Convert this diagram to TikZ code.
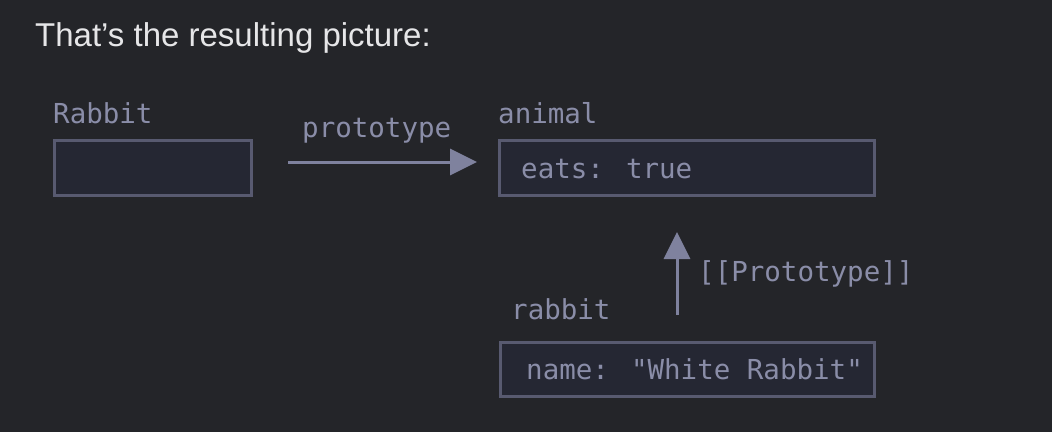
\documentclass[tikz,border=0pt]{standalone}
\usepackage{fontspec}
\setmainfont{Liberation Sans}
\newfontfamily\codefont{DejaVu Sans Mono}
\usetikzlibrary{arrows.meta}
\definecolor{bgc}{HTML}{242529}
\definecolor{boxfill}{HTML}{252733}
\definecolor{boxline}{HTML}{585A70}
\definecolor{codetext}{HTML}{8A8DA8}
\definecolor{arrowc}{HTML}{7F829E}
\definecolor{titletext}{HTML}{E6E6E8}
\tikzset{
  objbox/.style={draw=boxline, fill=boxfill, line width=3pt, anchor=north west, inner sep=0pt},
  codelabel/.style={anchor=base west, inner sep=0pt, text=codetext, font=\codefont\fontsize{27.5}{30}\selectfont},
  protoarrow/.style={draw=arrowc, line width=3pt, -{Triangle[length=27pt,width=26pt]}},
}
\begin{document}
\begin{tikzpicture}[x=1pt,y=-1pt]
\fill[bgc] (0,0) rectangle (1052,432);
\useasboundingbox (0,0) rectangle (1052,432);
\node[anchor=base west, inner sep=0pt, text=titletext, font=\fontsize{33}{36}\selectfont] (title) at (35,46) {That’s the resulting picture:};
% Rabbit
\node[codelabel] (Rabbitlbl) at (53,123) {Rabbit};
\node[objbox, minimum width=197pt, minimum height=55pt] (Rabbit) at (53,139) {};
% animal
\node[codelabel] (animallbl) at (498,123) {animal};
\node[objbox, minimum width=375pt, minimum height=55pt] (animal) at (498,139) {};
\node[codelabel] (eats) at (521,178) {eats: true};
% rabbit
\node[codelabel] (rabbitlbl) at (511,319) {rabbit};
\node[objbox, minimum width=374pt, minimum height=54pt] (rabbit) at (499,341) {};
\node[codelabel] (name) at (526,379) {name: "White Rabbit"};
% arrows
\coordinate (pstart) at (288,162);
\coordinate (pend) at (477,162);
\draw[protoarrow] (pstart) -- (pend);
\node[codelabel] (protolbl) at (302,137) {prototype};
\coordinate (ustart) at (677,315);
\coordinate (uend) at (677,232);
\draw[protoarrow] (ustart) -- (uend);
\node[codelabel] (Protolbl) at (698,281) {[[Prototype]]};
\end{tikzpicture}
\end{document}
